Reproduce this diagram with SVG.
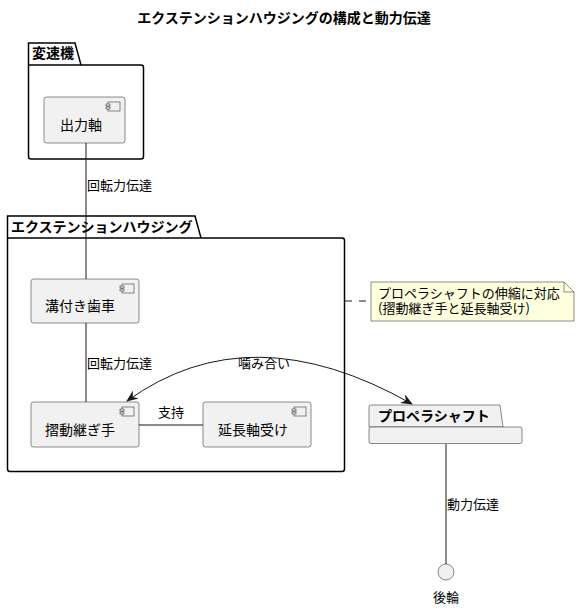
<svg xmlns="http://www.w3.org/2000/svg" width="580" height="609" viewBox="0 0 580 609">
<style>
text{font-family:"Noto Sans CJK JP","Noto Sans",sans-serif;fill:#000}
.title{font-size:14px;font-weight:bold}
.pkg{fill:none;stroke:#000;stroke-width:1.5}
.pkgt{font-size:14px;font-weight:bold}
.comp{fill:#F1F1F1;stroke:#181818;stroke-width:0.5}
.ct{font-size:14px}
.lbl{font-size:13px}
.ln{fill:none;stroke:#181818;stroke-width:1}
</style>
<defs>
<g id="icon"><rect x="0" y="0" width="12" height="9" fill="#F1F1F1" stroke="#181818" stroke-width="0.5"/><rect x="-2" y="2" width="4" height="2" fill="#F1F1F1" stroke="#181818" stroke-width="0.5"/><rect x="-2" y="5" width="4" height="2" fill="#F1F1F1" stroke="#181818" stroke-width="0.5"/></g>
<marker id="ah" viewBox="0 0 12 10" refX="11" refY="5" markerWidth="12" markerHeight="10" orient="auto-start-reverse" markerUnits="userSpaceOnUse"><path d="M0,0 L12,5 L0,10 L4,5 Z" fill="#181818"/></marker>
</defs>
<text class="title" x="284" y="23" text-anchor="middle">エクステンションハウジングの構成と動力伝達</text>

<g id="pkg-hensokuki">
<path class="pkg" d="M28.5,43 L75,43 L81,65 L141,65 Q143.5,65 143.5,67.5 L143.5,156.5 Q143.5,159 141,159 L31,159 Q28.5,159 28.5,156.5 Z M28.5,65 L81,65"/>
<text class="pkgt" x="32" y="58">変速機</text>
</g>
<g id="pkg-housing">
<path class="pkg" d="M7.5,216 L195,216 L201,238 L342,238 Q344.5,238 344.5,240.5 L344.5,469 Q344.5,471.5 342,471.5 L10,471.5 Q7.5,471.5 7.5,469 Z M7.5,238 L201,238"/>
<text class="pkgt" x="11" y="232">エクステンションハウジング</text>
</g>

<g id="connectors">
<path class="ln" d="M86,143 L86,279"/>
<text class="lbl" x="87" y="190">回転力伝達</text>
<path class="ln" d="M86,323 L86,402"/>
<text class="lbl" x="87" y="368">回転力伝達</text>
<path class="ln" d="M139,425 L203,425"/>
<text class="lbl" x="158" y="417">支持</text>
<path class="ln" d="M127,401 Q250,312 412,404" marker-start="url(#ah)" marker-end="url(#ah)"/>
<text class="lbl" x="238" y="368">噛み合い</text>
<path class="ln" d="M345,301 L371,301" stroke-dasharray="7,7"/>
<path class="ln" d="M446,444 L446,564"/>
<text class="lbl" x="447" y="509">動力伝達</text>
</g>

<g id="shutsuryokujiku">
<rect class="comp" x="44" y="97" width="81" height="46" rx="2.5"/>
<use href="#icon" x="108" y="102"/>
<text class="ct" x="60" y="130">出力軸</text>
</g>
<g id="mizotsuki">
<rect class="comp" x="31" y="279" width="108" height="44" rx="2.5"/>
<use href="#icon" x="122" y="284"/>
<text class="ct" x="45" y="311">溝付き歯車</text>
</g>
<g id="shudo">
<rect class="comp" x="31" y="402" width="108" height="45" rx="2.5"/>
<use href="#icon" x="122" y="407"/>
<text class="ct" x="45" y="435">摺動継ぎ手</text>
</g>
<g id="encho">
<rect class="comp" x="203" y="402" width="108" height="45" rx="2.5"/>
<use href="#icon" x="294" y="407"/>
<text class="ct" x="218" y="435">延長軸受け</text>
</g>
<g id="note">
<path d="M371,282 L564,282 L574,292 L574,321 L371,321 Z" fill="#FEFFDD" stroke="#181818" stroke-width="0.5"/>
<path d="M564,282 L564,292 L574,292" fill="none" stroke="#181818" stroke-width="0.5"/>
<text class="lbl" x="378" y="298">プロペラシャフトの伸縮に対応</text>
<text class="lbl" x="378" y="313">(摺動継ぎ手と延長軸受け)</text>
</g>
<g id="propeller">
<path d="M369,427 L369,407 Q369,405 371,405 L500,405 L503,427 Z" fill="#F1F1F1" stroke="#181818" stroke-width="0.5"/>
<rect x="369" y="427" width="153" height="16.5" rx="2" fill="#F1F1F1" stroke="#181818" stroke-width="0.5"/>
<text class="pkgt" x="378" y="421">プロペラシャフト</text>
</g>
<g id="kourin">
<circle cx="446" cy="572" r="8" fill="#F1F1F1" stroke="#181818" stroke-width="0.5"/>
<text class="lbl" x="446" y="602" text-anchor="middle">後輪</text>
</g>
</svg>
